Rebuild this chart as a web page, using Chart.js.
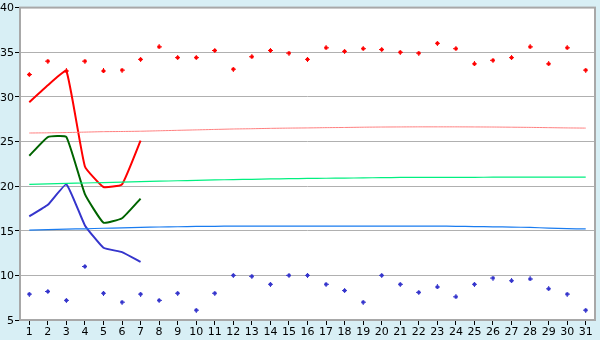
<!DOCTYPE html>
<html>
<head>
<meta charset="utf-8">
<script src="https://cdn.jsdelivr.net/npm/chart.js@4"></script>
<style>
  html, body { margin: 0; padding: 0; background: #d8eff5; }
  #wrap { width: 600px; height: 340px; }
</style>
</head>
<body>
<div id="wrap"><canvas id="chart" width="600" height="340"></canvas></div>
<script>
// days of the month
const days = ['1','2','3','4','5','6','7','8','9','10','11','12','13','14','15','16',
              '17','18','19','20','21','22','23','24','25','26','27','28','29','30','31'];

// daily highs / lows (markers)
const highs = [32.5, 34.0, 32.9, 34.0, 32.9, 33.0, 34.2, 35.6, 34.4, 34.4, 35.2, 33.1, 34.5, 35.2, 34.9, 34.2,
               35.5, 35.1, 35.4, 35.3, 35.0, 34.9, 36.0, 35.4, 33.7, 34.1, 34.4, 35.6, 33.7, 35.5, 33.0];
const lows  = [7.9, 8.2, 7.2, 11.0, 8.0, 7.0, 7.9, 7.2, 8.0, 6.1, 8.0, 10.0, 9.9, 9.0, 10.0, 10.0,
               9.0, 8.3, 7.0, 10.0, 9.0, 8.1, 8.7, 7.6, 9.0, 9.7, 9.4, 9.6, 8.5, 7.9, 6.1];

// current month (first week)
const maxNow  = [29.4, 31.3, 32.9, 22.2, 19.9, 20.2, 25.1];
const meanNow = [23.4, 25.5, 25.5, 19.1, 15.9, 16.4, 18.6];
const minNow  = [16.6, 17.9, 20.2, 15.6, 13.1, 12.6, 11.5];

// long-term averages
const avgMax  = [25.95, 25.97, 26.0, 26.05, 26.1, 26.12, 26.15, 26.2, 26.25, 26.3, 26.35, 26.4, 26.43, 26.47, 26.5, 26.52,
                 26.55, 26.57, 26.6, 26.62, 26.63, 26.64, 26.64, 26.64, 26.63, 26.62, 26.6, 26.58, 26.55, 26.52, 26.5];
const avgMean = [20.2, 20.25, 20.3, 20.35, 20.4, 20.45, 20.5, 20.55, 20.6, 20.65, 20.7, 20.73, 20.76, 20.8, 20.83, 20.86,
                 20.88, 20.9, 20.92, 20.95, 20.97, 20.98, 20.98, 20.99, 20.99, 21.0, 21.0, 21.0, 21.0, 21.0, 21.0];
const avgMin  = [15.08, 15.12, 15.18, 15.22, 15.28, 15.32, 15.37, 15.42, 15.45, 15.48, 15.5, 15.52, 15.52, 15.52, 15.52, 15.52,
                 15.52, 15.52, 15.52, 15.52, 15.52, 15.52, 15.52, 15.5, 15.47, 15.44, 15.41, 15.37, 15.3, 15.24, 15.2];

function marker(color) {
    // small pixel diamond like the original chart's markers
    const c = document.createElement('canvas');
    c.width = 5; c.height = 5;
    const g = c.getContext('2d');
    g.fillStyle = color;
    g.fillRect(2, 0, 1, 5);
    g.fillRect(0, 2, 5, 1);
    g.fillRect(1, 1, 3, 3);
    return c;
}

const bgPlugin = {
    id: 'bg',
    beforeDraw(chart) {
        const { ctx, chartArea: a } = chart;
        ctx.save();
        ctx.fillStyle = '#d8eff5';
        ctx.fillRect(0, 0, chart.width, chart.height);
        ctx.fillStyle = '#ffffff';
        ctx.fillRect(a.left, a.top, a.right - a.left, a.bottom - a.top);
        ctx.restore();
    },
    afterDraw(chart) {
        const { ctx, chartArea: a } = chart;
        ctx.save();
        ctx.strokeStyle = '#a8a8a8';
        ctx.lineWidth = 2;
        ctx.strokeRect(a.left, a.top, a.right - a.left, a.bottom - a.top);
        ctx.restore();
    }
};

function line(data, color, width) {
    return {
        data: data,
        borderColor: color,
        borderWidth: width,
        pointRadius: 0,
        fill: false,
        tension: 0.12
    };
}

function dots(data, color) {
    return {
        data: data,
        showLine: false,
        pointStyle: marker(color),
        pointRadius: 3,
        borderColor: color,
        backgroundColor: color
    };
}

new Chart(document.getElementById('chart'), {
    type: 'line',
    data: {
        labels: days,
        datasets: [
            line(avgMax, '#ff8080', 1),
            line(avgMean, '#00f080', 1.2),
            line(avgMin, '#1a7cf0', 1.2),
            line(maxNow, '#ff0000', 2),
            line(meanNow, '#006400', 2),
            line(minNow, '#3535cc', 2),
            dots(highs, '#ff0000'),
            dots(lows, '#3535cc')
        ]
    },
    plugins: [bgPlugin],
    options: {
        responsive: false,
        animation: false,
        layout: { padding: { top: 5, right: 5, left: 0, bottom: 0 } },
        plugins: { legend: { display: false }, tooltip: { enabled: false } },
        scales: {
            x: {
                offset: true,
                grid: { offset: false, drawOnChartArea: false, drawTicks: true, tickLength: 5, color: '#000' },
                border: { display: false },
                ticks: { color: '#000', font: { family: 'DejaVu Sans', size: 11 }, padding: 1, maxRotation: 0, autoSkip: false },
                afterFit(s) { s.height = 20; }
            },
            y: {
                min: 5,
                max: 40,
                grid: { color: '#b0b0b0', lineWidth: 1, tickLength: 5, tickColor: '#000' },
                border: { display: false },
                ticks: { stepSize: 5, color: '#000', font: { family: 'DejaVu Sans', size: 11 }, padding: 1, labelOffset: 1 },
                afterFit(s) { s.width = 20; }
            }
        }
    }
});
</script>
</body>
</html>
